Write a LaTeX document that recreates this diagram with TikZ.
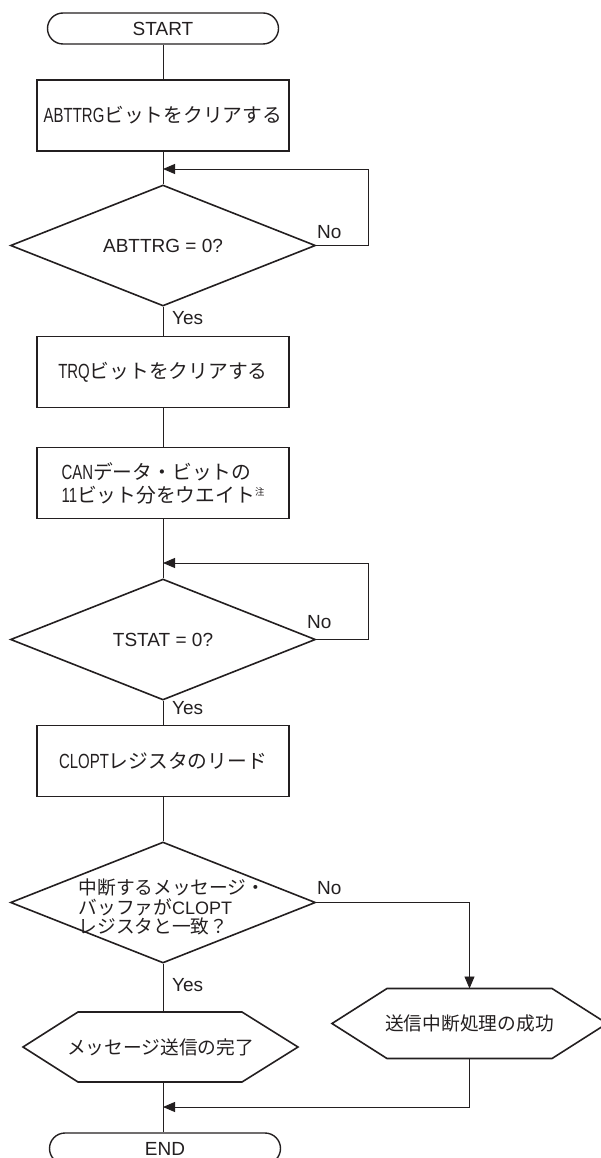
\documentclass[tikz,border=0pt]{standalone}
\usepackage{fontspec}
\setmainfont{Liberation Sans}
\newfontfamily\jp[Scale=1.04]{Noto Sans CJK JP}
\newfontfamily\cn[FakeStretch=0.73]{Liberation Sans}
\usetikzlibrary{arrows.meta,shapes.geometric}
\definecolor{ink}{HTML}{231F20}
\newcommand\J[1]{{\jp #1}}
\newcommand\C[1]{{\cn\fontsize{20.5}{23}\selectfont #1}}
\begin{document}
\begin{tikzpicture}[x=1pt,y=-1pt,
  every node/.style={text=ink, inner sep=0pt},
  txt/.style={font=\fontsize{19}{23}\selectfont},
  stxt/.style={font=\fontsize{18}{19.5}\selectfont},
  box/.style={draw=ink, line width=1.6pt, minimum width=252pt, minimum height=71pt, txt},
  term/.style={draw=ink, line width=1.4pt, rounded corners=15.5pt, minimum width=231pt, minimum height=31pt, txt},
  dia/.style={draw=ink, line width=1.6pt, diamond, aspect=2.52, minimum width=305pt, minimum height=121pt},
  hexa/.style={minimum width=275pt, minimum height=70pt, outer sep=0pt, stxt},
  shp/.style={draw=ink, line width=1.6pt, line join=miter},
  conn/.style={draw=ink, line width=0.9pt},
  arr/.style={conn, -{Triangle[length=12pt,width=10pt]}},
  lab/.style={txt, anchor=west},
]
\useasboundingbox (0,0) rectangle (600,1158);

% nodes
\node[term] (start) at (163,28.5) {START};
\node[box] (b1) at (163,115.5) {\C{ABTTRG}\J{ビットをクリアする}};
\coordinate (m1) at (163,169);
\node[dia] (d1) at (163,245.5) {};
\node[txt] (d1t) at (163,246) {ABTTRG = 0?};
\node[box] (b2) at (163,372) {\C{TRQ}\J{ビットをクリアする}};
\node[box, align=left] (b3) at (163,483) {\C{CAN}\J{データ・ビットの}\\\C{11}\J{ビット分をウエイト}\raisebox{7pt}{\jp\fontsize{9}{9}\selectfont 注}};
\coordinate (m2) at (163,563);
\node[dia] (d2) at (163,639.5) {};
\node[txt] (d2t) at (163,640) {TSTAT = 0?};
\node[box] (b4) at (163,761) {\C{CLOPT}\J{レジスタのリード}};
\node[dia] (d3) at (163,902.5) {};
\node[stxt, align=left] (d3t) at (172,907) {\J{中断するメッセージ・}\\\J{バッファが}CLOPT\\\J{レジスタと一致？}};
\node[hexa] (h1) at (160.5,1047) {\J{メッセージ送信の完了}};
\node[hexa] (h2) at (469.5,1023.5) {\J{送信中断処理の成功}};
\coordinate (m3) at (163,1107);
\node[term] (end) at (165,1148.5) {END};

% hexagon outlines
\draw[shp] (h1.west) -- ([xshift=55pt]h1.north west) -- ([xshift=-56pt]h1.north east)
  -- (h1.east) -- ([xshift=-56pt]h1.south east) -- ([xshift=55pt]h1.south west) -- cycle;
\draw[shp] (h2.west) -- ([xshift=55pt]h2.north west) -- ([xshift=-55pt]h2.north east)
  -- (h2.east) -- ([xshift=-55pt]h2.south east) -- ([xshift=55pt]h2.south west) -- cycle;

% labels
\node[lab] (no1) at (317,232) {No};
\node[lab] (yes1) at (172,318) {Yes};
\node[lab] (no2) at (307,622) {No};
\node[lab] (yes2) at (172,708) {Yes};
\node[lab] (no3) at (317,888) {No};
\node[lab] (yes3) at (172,985) {Yes};

% connectors
\draw[conn] (start) -- (b1);
\draw[conn] (b1) -- (d1);
\draw[arr] (d1.east) -- ([xshift=52pt]d1.east) |- (m1);
\draw[conn] (d1) -- (b2);
\draw[conn] (b2) -- (b3);
\draw[conn] (b3) -- (d2);
\draw[arr] (d2.east) -- ([xshift=52pt]d2.east) |- (m2);
\draw[conn] (d2) -- (b4);
\draw[conn] (b4) -- (d3);
\draw[conn] (d3.south) -- (d3.south |- h1.north);
\draw[arr] (d3.east) -| (h2.north);
\draw[conn] (d3.south |- h1.south) -- (end.north -| d3.south);
\draw[arr] (h2.south) |- (m3);
\end{tikzpicture}
\end{document}
